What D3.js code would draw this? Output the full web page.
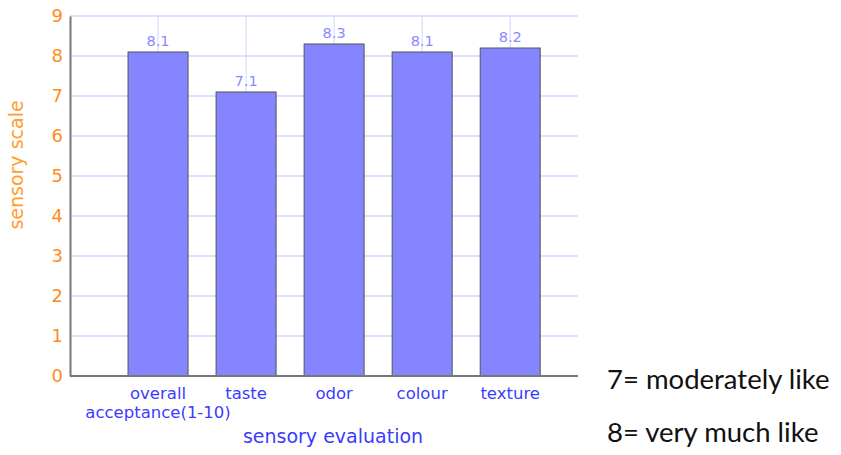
<!DOCTYPE html>
<html><head><meta charset="utf-8">
<script src="https://cdn.jsdelivr.net/npm/d3@7"></script>
<style>html,body{margin:0;padding:0;background:#fff;}svg{display:block;}</style>
</head><body>
<svg id="c" width="841" height="455"></svg>
<script>
const categories = ["overall\nacceptance(1-10)", "taste", "odor", "colour", "texture"];
const values = [8.1, 7.1, 8.3, 8.1, 8.2];
const yTicks = [0,1,2,3,4,5,6,7,8,9];
const yTitle = "sensory scale";
const xTitle = "sensory evaluation";
const notes = ["7= moderately like", "8= very much like"];

(function() {
const svg = d3.select("#c");
const pLeft = 70, pRight = 578, pTop = 16, pBottom = 376;
const y = d3.scaleLinear().domain([0, 9]).range([pBottom, pTop]);
const x = d3.scaleLinear().domain([-1, 4.77]).range([pLeft, pRight]);
const barW = 60;
const font = "DejaVu Sans, Verdana, sans-serif";

// horizontal grid
svg.append("g").selectAll("line").data(yTicks.filter(d => d > 0)).join("line")
  .attr("x1", pLeft).attr("x2", pRight).attr("y1", d => y(d)).attr("y2", d => y(d))
  .attr("stroke", "#d4d4ff").attr("stroke-width", 1.5);
// vertical grid at categories
svg.append("g").selectAll("line").data(categories).join("line")
  .attr("x1", (d,i) => x(i)).attr("x2", (d,i) => x(i)).attr("y1", pTop).attr("y2", pBottom)
  .attr("stroke", "#d4d4ff").attr("stroke-width", 1);

// bars
svg.append("g").selectAll("rect").data(values).join("rect")
  .attr("x", (d,i) => x(i) - barW/2).attr("width", barW)
  .attr("y", d => y(d)).attr("height", d => y(0) - y(d))
  .attr("fill", "#8585ff").attr("stroke", "#555").attr("stroke-width", 1);

// value labels
svg.append("g").selectAll("text").data(values).join("text")
  .attr("x", (d,i) => x(i)).attr("y", d => y(d) - 6)
  .attr("text-anchor", "middle").attr("font-family", font).attr("font-size", 14.5)
  .attr("fill", "#8a8aff").text(d => d.toFixed(1));

// axes
const yAxis = d3.axisLeft(y).tickValues(yTicks).tickSize(0).tickPadding(7);
const gy = svg.append("g").attr("transform", `translate(${pLeft},0)`).call(yAxis);
gy.select(".domain").attr("stroke", "#777").attr("stroke-width", 2);
gy.selectAll("text").attr("fill", "#ff8c1a").attr("font-family", font).attr("font-size", 18);

svg.append("line").attr("x1", pLeft).attr("x2", pRight).attr("y1", pBottom).attr("y2", pBottom)
  .attr("stroke", "#777").attr("stroke-width", 2);

// x labels
const xl = svg.append("g").selectAll("text").data(categories).join("text")
  .attr("text-anchor", "middle").attr("font-family", font).attr("font-size", 16.5)
  .attr("fill", "#3b3bff");
xl.each(function(d, i) {
  const lines = d.split("\n");
  d3.select(this).selectAll("tspan").data(lines).join("tspan")
    .attr("x", x(i)).attr("y", (l, j) => 399 + j * 19).text(l => l);
});

// axis titles
svg.append("text").attr("x", 333).attr("y", 443).attr("text-anchor", "middle")
  .attr("font-family", font).attr("font-size", 19).attr("fill", "#3b3bff").text(xTitle);
svg.append("text").attr("transform", `translate(23,165) rotate(-90)`).attr("text-anchor", "middle")
  .attr("font-family", font).attr("font-size", 19).attr("fill", "#ff9d2e").text(yTitle);

// notes
svg.append("g").selectAll("text").data(notes).join("text")
  .attr("x", 607).attr("y", (d,i) => 389 + i * 53)
  .attr("font-family", "Lato, 'Open Sans', sans-serif").attr("font-size", 27.5)
  .attr("fill", "#111").text(d => d);
})();
</script>
</body></html>
